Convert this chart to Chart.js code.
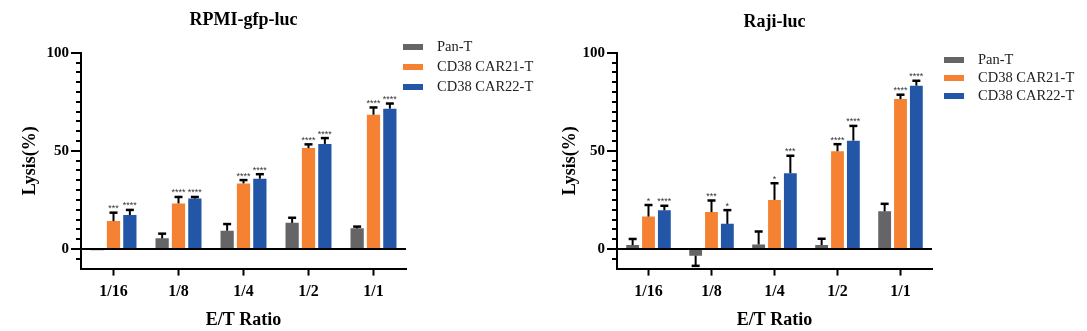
<!DOCTYPE html>
<html>
<head>
<meta charset="utf-8">
<script src="https://cdn.jsdelivr.net/npm/chart.js@4"></script>
<style>
  body { margin: 0; background: #fff; }
  #wrap { display: flex; width: 1087px; height: 331px; }
  canvas { display: block; }
</style>
</head>
<body>
<div id="wrap">
  <canvas id="rpmiChart" width="540" height="331"></canvas>
  <canvas id="rajiChart" width="547" height="331"></canvas>
</div>
<script>
const ratios = ['1/16', '1/8', '1/4', '1/2', '1/1'];
const groups = ['Pan-T', 'CD38 CAR21-T', 'CD38 CAR22-T'];
const colors = ['#656567', '#F58232', '#2356A7'];
const yTickLabels = [0, 50, 100];

// RPMI-gfp-luc
const rpmiPanT = [-0.6, 5.4, 9.3, 13.3, 10.5];
const rpmiPanTErr = [0, 2.4, 3.4, 2.6, 0.9];
const rpmiCar21 = [14.2, 23.2, 33.4, 51.4, 68.4];
const rpmiCar21Err = [4.3, 3.3, 1.7, 1.9, 3.7];
const rpmiCar22 = [17.3, 25.7, 35.8, 53.5, 71.5];
const rpmiCar22Err = [2.6, 0.8, 2.3, 3.0, 2.6];
const rpmiStars = [
  ['', '', '', '', ''],
  ['***', '****', '****', '****', '****'],
  ['****', '****', '****', '****', '****']
];

// Raji-luc
const rajiPanT = [2.0, -3.4, 2.3, 2.0, 19.2];
const rajiPanTErr = [3.1, 5.2, 6.6, 3.2, 3.8];
const rajiCar21 = [16.5, 18.8, 25.0, 49.8, 76.4];
const rajiCar21Err = [5.9, 5.9, 8.5, 3.6, 2.2];
const rajiCar22 = [19.7, 12.8, 38.6, 55.2, 83.2];
const rajiCar22Err = [2.3, 7.0, 8.9, 7.5, 2.5];
const rajiStars = [
  ['', '', '', '', ''],
  ['*', '***', '*', '****', '****'],
  ['****', '*', '***', '****', '****']
];

Chart.defaults.font.family = "'Liberation Serif', 'Times New Roman', serif";

const extrasPlugin = {
  id: 'extras',
  afterDraw(chart, args, opts) {
    const ctx = chart.ctx;
    const area = chart.chartArea;
    const y = chart.scales.y;
    ctx.save();

    // minor ticks on y axis
    ctx.strokeStyle = '#000';
    ctx.lineWidth = 2;
    for (let v = -5; v < 100; v += 5) {
      if (yTickLabels.includes(v)) continue;
      const py = Math.round(y.getPixelForValue(v));
      ctx.beginPath();
      ctx.moveTo(area.left - 5, py);
      ctx.lineTo(area.left, py);
      ctx.stroke();
    }

    // error bars + significance stars
    chart.data.datasets.forEach((ds, i) => {
      const meta = chart.getDatasetMeta(i);
      meta.data.forEach((bar, j) => {
        const v = ds.data[j];
        const e = ds.errors[j];
        let capY = bar.y;
        if (e > 0) {
          const end = v >= 0 ? v + e : v - e;
          capY = y.getPixelForValue(end);
          ctx.strokeStyle = '#000';
          ctx.lineWidth = 2;
          ctx.beginPath();
          ctx.moveTo(bar.x, bar.y);
          ctx.lineTo(bar.x, capY);
          ctx.stroke();
          ctx.lineWidth = 2.5;
          ctx.beginPath();
          ctx.moveTo(bar.x - 4, capY);
          ctx.lineTo(bar.x + 4, capY);
          ctx.stroke();
        }
        if (ds.stars[j]) {
          ctx.fillStyle = '#333';
          ctx.font = '9px Arial, "Liberation Sans", sans-serif';
          ctx.textAlign = 'center';
          ctx.textBaseline = 'alphabetic';
          ctx.fillText(ds.stars[j], bar.x, capY - 1.5);
        }
      });
    });

    // title
    ctx.fillStyle = '#000';
    ctx.font = "bold 18px 'Liberation Serif', serif";
    ctx.textAlign = 'center';
    ctx.textBaseline = 'middle';
    ctx.fillText(opts.title, (area.left + area.right) / 2, opts.titleY);

    // legend
    ctx.font = "14.5px 'Liberation Serif', serif";
    ctx.textAlign = 'left';
    groups.forEach((g, i) => {
      const ry = opts.legendRows[i];
      ctx.fillStyle = colors[i];
      ctx.fillRect(opts.legendX, ry - 3, 20, 6);
      ctx.fillStyle = '#222';
      ctx.fillText(g, opts.legendX + 34, ry);
    });

    ctx.restore();
  }
};

function makeChart(id, cfg) {
  return new Chart(document.getElementById(id), {
    type: 'bar',
    data: {
      labels: ratios,
      datasets: groups.map((g, i) => ({
        label: g,
        data: cfg.values[i],
        errors: cfg.errors[i],
        stars: cfg.stars[i],
        backgroundColor: colors[i],
        borderWidth: 0,
        categoryPercentage: 0.755,
        barPercentage: 0.81
      }))
    },
    options: {
      responsive: false,
      animation: false,
      layout: { padding: { top: 52.7, right: cfg.padRight, left: 0, bottom: 0 } },
      plugins: {
        legend: { display: false },
        tooltip: { enabled: false },
        extras: cfg.extras
      },
      scales: {
        x: {
          offset: true,
          grid: { offset: false, drawOnChartArea: false, tickLength: 7, tickWidth: 2, tickColor: '#000' },
          border: { color: '#000', width: 2 },
          ticks: { font: { size: 16, weight: 'bold' }, color: '#000', padding: 7, maxRotation: 0 },
          title: { display: true, text: 'E/T Ratio', font: { size: 18, weight: 'bold' }, color: '#000', padding: 0 },
          afterFit: s => { s.height = 62.4; }
        },
        y: {
          min: -10,
          max: 100,
          ticks: {
            stepSize: 5,
            autoSkip: false,
            callback: v => yTickLabels.includes(v) ? v : '',
            font: { size: 15, weight: 'bold' },
            color: '#000',
            padding: 2
          },
          grid: {
            color: c => c.tick && c.tick.value === 0 ? '#000' : 'transparent',
            lineWidth: 2,
            tickLength: 10,
            tickWidth: 2,
            tickColor: c => c.tick && yTickLabels.includes(c.tick.value) ? '#000' : 'transparent'
          },
          border: { color: '#000', width: 2 },
          title: { display: true, text: 'Lysis(%)', font: { size: 18, weight: 'bold' }, color: '#000', padding: { top: 20, bottom: 0 } },
          afterFit: s => { s.width = cfg.axisLeft; }
        }
      }
    },
    plugins: [extrasPlugin]
  });
}

makeChart('rpmiChart', {
  values: [rpmiPanT, rpmiCar21, rpmiCar22],
  errors: [rpmiPanTErr, rpmiCar21Err, rpmiCar22Err],
  stars: rpmiStars,
  axisLeft: 81,
  padRight: 134,
  extras: { title: 'RPMI-gfp-luc', titleY: 20, legendX: 403, legendRows: [47, 67, 87] }
});

makeChart('rajiChart', {
  values: [rajiPanT, rajiCar21, rajiCar22],
  errors: [rajiPanTErr, rajiCar21Err, rajiCar22Err],
  stars: rajiStars,
  axisLeft: 77,
  padRight: 155,
  extras: { title: 'Raji-luc', titleY: 22, legendX: 404, legendRows: [60, 78, 96] }
});
</script>
</body>
</html>
